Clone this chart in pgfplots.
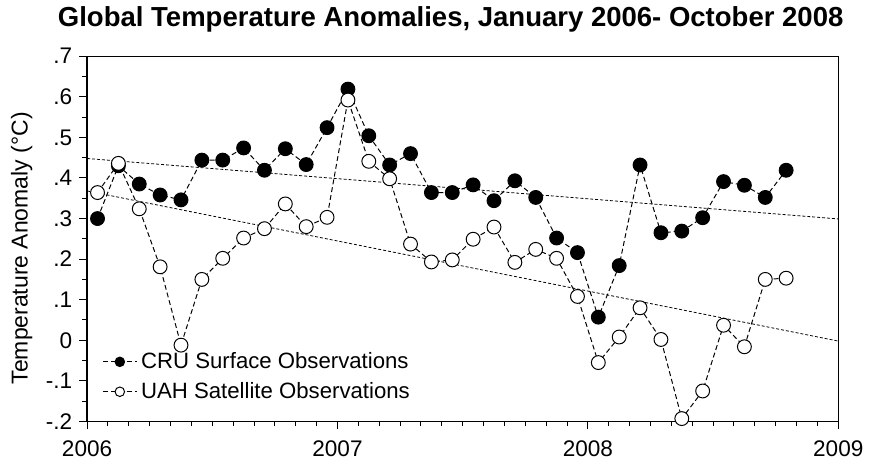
\documentclass[border=0pt]{standalone}
\usepackage{fontspec}
\setmainfont{Liberation Sans}
\usepackage{pgfplots}
\pgfplotsset{compat=1.18}
\usepackage{pgfplotstable}

% monthly anomalies, Jan 2006 - Oct 2008 (x = months since Jan 2006, mid-month)
\pgfplotstableread{
m     cru    uah
0.5   0.300  0.364
1.5   0.430  0.436
2.5   0.385  0.324
3.5   0.358  0.181
4.5   0.346  -0.012
5.5   0.444  0.150
6.5   0.444  0.202
7.5   0.474  0.252
8.5   0.419  0.275
9.5   0.472  0.336
10.5  0.433  0.280
11.5  0.524  0.303
12.5  0.619  0.592
13.5  0.504  0.441
14.5  0.432  0.398
15.5  0.460  0.237
16.5  0.364  0.193
17.5  0.364  0.198
18.5  0.383  0.249
19.5  0.344  0.279
20.5  0.393  0.192
21.5  0.352  0.224
22.5  0.252  0.202
23.5  0.216  0.108
24.5  0.057  -0.055
25.5  0.184  0.008
26.5  0.432  0.080
27.5  0.265  0.002
28.5  0.269  -0.193
29.5  0.302  -0.125
30.5  0.391  0.037
31.5  0.382  -0.016
32.5  0.352  0.150
33.5  0.419  0.153
}\anom

\begin{document}
\begin{tikzpicture}
\begin{axis}[
    scale only axis,
    width=379.5pt, height=184.5pt,
    xmin=0, xmax=36, ymin=-0.2, ymax=0.7,
    xtick={0,12,24,36}, xticklabels={2006,2007,2008,2009},
    minor x tick num=11,
    ytick={-0.2,-0.1,0,0.1,0.2,0.3,0.4,0.5,0.6,0.7},
    yticklabels={-.2,-.1,0,.1,.2,.3,.4,.5,.6,.7},
    minor y tick num=1,
    xtick pos=bottom, ytick pos=left,
    tick align=outside,
    major tick length=4pt, minor tick length=2.5pt,
    tick style={black, line width=0.5pt},
    axis line style={line width=0.7pt},
    ticklabel style={font=\fontsize{11.4}{13}\selectfont},
    x tick label style={yshift=-2pt},
    title={Global Temperature Anomalies, January 2006- October 2008},
    title style={font=\fontsize{13.9}{16}\selectfont\bfseries, at={(0.484,1)}, anchor=base, yshift=9pt},
    ylabel={Temperature Anomaly (°C)},
    ylabel style={font=\fontsize{11.6}{13}\selectfont, at={(axis description cs:-0.087,0.474)}, anchor=center},
    legend style={at={(axis description cs:0.012,0.212)}, anchor=north west, draw=none, fill=none,
        font=\fontsize{11.2}{13}\selectfont, row sep=1.5pt},
    legend cell align=left,
    legend image code/.code={\draw[mark repeat=2, mark phase=2, #1, mark size=2.4pt]
        plot coordinates {(0cm,0cm) (0.3cm,0cm) (0.6cm,0cm)};},
]
% trend lines
\addplot[black, line width=0.4pt, dash pattern=on 1.5pt off 1pt, forget plot] coordinates {(0,0.448) (36,0.299)};
\addplot[black, line width=0.4pt, dash pattern=on 1.5pt off 1pt, forget plot] coordinates {(0,0.368) (36,-0.002)};
% observations
\addplot[black, line width=0.5pt, dash pattern=on 2.5pt off 1.5pt, mark=*, mark size=3.5pt,
    mark options={solid, fill=black}] table[x=m, y=cru] {\anom};
\addlegendentry{CRU Surface Observations}
\addplot[black, line width=0.5pt, dash pattern=on 2.5pt off 1.5pt, mark=*, mark size=3.5pt,
    mark options={solid, fill=white, draw=black, line width=0.5pt}] table[x=m, y=uah] {\anom};
\addlegendentry{UAH Satellite Observations}
\end{axis}
\path (current axis.south west) ++(-44pt,-24.5pt) coordinate (bl);
\path (current axis.north east) ++(11.5pt,24.5pt) coordinate (tr);
\path (bl) rectangle (tr);
\end{tikzpicture}
\end{document}
